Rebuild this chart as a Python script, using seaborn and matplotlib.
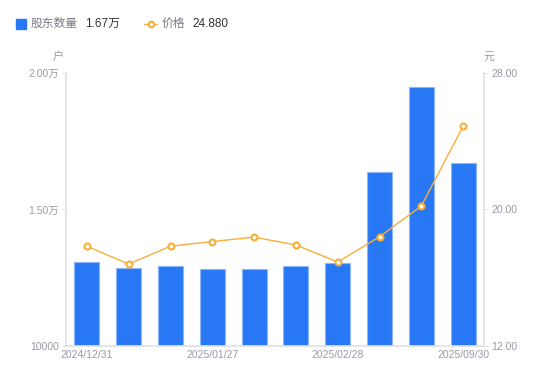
import numpy as np
import pandas as pd
import seaborn as sns
import matplotlib.pyplot as plt
from matplotlib.lines import Line2D

# data
dates = ['2024/12/31', '2025/01/10', '2025/01/20', '2025/01/27', '2025/02/10',
         '2025/02/20', '2025/02/28', '2025/03/31', '2025/06/30', '2025/09/30']
holders = [13077, 12857, 12930, 12820, 12820, 12930, 13040, 16374, 19487, 16700]
price = [17.85, 16.80, 17.85, 18.12, 18.38, 17.92, 16.92, 18.40, 20.20, 24.88]
xtick_show = ['2024/12/31', '2025/01/27', '2025/02/28', '2025/09/30']

df = pd.DataFrame({'date': dates, 'holders': holders, 'price': price})

sns.set_theme(style='white')
plt.rcParams['font.family'] = ['Liberation Sans', 'Noto Sans CJK SC', 'DejaVu Sans']

bar_color = '#2878F5'
line_color = '#F7AE3A'
grey = '#9a9aa8'
axis_grey = '#e2e2e6'

fig = plt.figure(figsize=(5.5, 3.81), dpi=100)
ax = fig.add_axes([0.12, 0.0919, 0.76, 0.7165])

sns.barplot(data=df, x='date', y='holders', color=bar_color, width=0.6,
            edgecolor='#8db6fa', linewidth=0.8, saturation=1, ax=ax)
ax.set_ylim(10000, 20000)
ax.set_yticks([10000, 15000, 20000])
ax.set_yticklabels(['10000', '1.50万', '2.00万'])

ax2 = ax.twinx()
sns.lineplot(data=df, x='date', y='price', color=line_color, linewidth=1,
             marker='o', markersize=4.3, markerfacecolor='white',
             markeredgecolor=line_color, markeredgewidth=1.5, ax=ax2)
ax2.set_ylim(12, 28)
ax2.set_yticks([12, 20, 28])
ax2.set_yticklabels(['12.00', '20.00', '28.00'])

ax.set_xlim(-0.5, len(dates) - 0.5)
ax.set_xticks([dates.index(d) for d in xtick_show])
ax.set_xticklabels(xtick_show)

for a in (ax, ax2):
    a.set_xlabel('')
    a.set_ylabel('')
    a.grid(False)
    for s in a.spines.values():
        s.set_visible(False)
    a.tick_params(axis='both', colors=grey, labelsize=7.5, length=3, width=0.8, pad=2)
    a.tick_params(axis='y', color=axis_grey)
ax.tick_params(axis='x', length=0, pad=3)
ax.spines['left'].set_visible(True)
ax.spines['left'].set_color(axis_grey)
ax.spines['bottom'].set_visible(True)
ax.spines['bottom'].set_color(axis_grey)
ax2.spines['right'].set_visible(True)
ax2.spines['right'].set_color(axis_grey)
for lab in ax.get_xticklabels():
    lab.set_color(grey)

# axis units
fig.text(0.106, 0.842, '户', color=grey, fontsize=8, ha='center')
fig.text(0.89, 0.842, '元', color=grey, fontsize=8, ha='center')

# legend header
fig.lines.append(Line2D([0.039], [0.937], marker='s', markersize=6.5, color=bar_color,
                        linestyle='none', transform=fig.transFigure))
fig.text(0.055, 0.937, '股东数量', color='#7a7a86', fontsize=8.5, va='center')
fig.text(0.155, 0.937, '1.67万', color='#333333', fontsize=8.5, va='center')
fig.lines.append(Line2D([0.262, 0.286], [0.937, 0.937], color=line_color, linewidth=1,
                        transform=fig.transFigure))
fig.lines.append(Line2D([0.274], [0.937], marker='o', markersize=4, markerfacecolor='white',
                        markeredgecolor=line_color, markeredgewidth=1.5, linestyle='none',
                        transform=fig.transFigure))
fig.text(0.293, 0.937, '价格', color='#7a7a86', fontsize=8.5, va='center')
fig.text(0.349, 0.937, '24.880', color='#333333', fontsize=8.5, va='center')

fig.savefig('out.png', dpi=100)
